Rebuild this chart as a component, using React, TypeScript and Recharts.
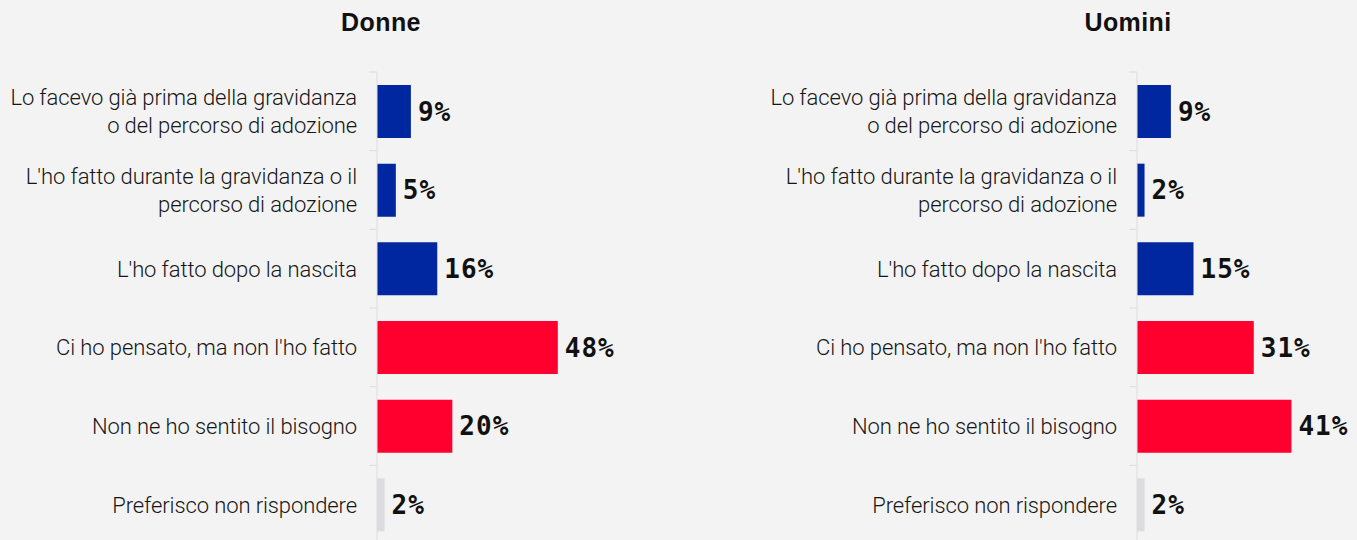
import * as React from "react";
import { BarChart, Bar, XAxis, YAxis, Cell, LabelList } from "recharts";

const categories = [
  "Lo facevo già prima della gravidanza o del percorso di adozione",
  "L'ho fatto durante la gravidanza o il percorso di adozione",
  "L'ho fatto dopo la nascita",
  "Ci ho pensato, ma non l'ho fatto",
  "Non ne ho sentito il bisogno",
  "Preferisco non rispondere",
];
const donneValues = [9, 5, 16, 48, 20, 2];
const uominiValues = [9, 2, 15, 31, 41, 2];
const answerGroup = ["done", "done", "done", "notDone", "notDone", "noAnswer"];

const GROUP_COLORS: Record<string, string> = {
  done: "#0026a0",
  notDone: "#ff002e",
  noAnswer: "#dcdcde",
};

const AXIS_WIDTH = 377;
const CHART_HEIGHT = 560;
const MARGIN = { top: 72, right: 157, left: 0, bottom: 16 };
const BAND = (CHART_HEIGHT - MARGIN.top - MARGIN.bottom) / categories.length;

function wrapLabel(text: string, maxChars: number) {
  const words = text.split(" ");
  const lines: string[] = [];
  let current = "";
  for (const w of words) {
    const next = current ? current + " " + w : w;
    if (next.length > maxChars && current) {
      lines.push(current);
      current = w;
    } else {
      current = next;
    }
  }
  if (current) lines.push(current);
  return lines;
}

function CategoryTick({ y, payload }: any) {
  const lines = wrapLabel(payload.value, 37);
  const lineHeight = 28;
  const startDy = -((lines.length - 1) * lineHeight) / 2;
  const textX = AXIS_WIDTH - 20;
  const top = y - BAND / 2;
  return (
    <g>
      <line x1={AXIS_WIDTH - 8} x2={AXIS_WIDTH} y1={top} y2={top} stroke="#dddddd" />
      <text
        x={textX}
        y={y}
        textAnchor="end"
        dominantBaseline="central"
        fill="#161616"
        style={{ fontFamily: "Roboto, sans-serif", fontWeight: 300, fontSize: 22, letterSpacing: -0.1 }}
      >
        {lines.map((l, i) => (
          <tspan key={i} x={textX} dy={i === 0 ? startDy : lineHeight}>
            {l}
          </tspan>
        ))}
      </text>
    </g>
  );
}

function GenderChart({ title, values, titleCenter }: { title: string; values: number[]; titleCenter: number }) {
  const data = categories.map((name, i) => ({ name, value: values[i], group: answerGroup[i] }));
  return (
    <div style={{ position: "relative", width: 760, height: 540 }}>
      <div
        style={{
          position: "absolute",
          left: titleCenter - 150,
          width: 300,
          top: 10,
          textAlign: "center",
          fontFamily: "'Liberation Sans', Arial, sans-serif",
          fontWeight: 700,
          fontSize: 25,
          lineHeight: "25px",
          letterSpacing: 0.4,
          color: "#111",
        }}
      >
        {title}
      </div>
      <BarChart width={760} height={CHART_HEIGHT} data={data} layout="vertical" margin={MARGIN}>
        <XAxis type="number" domain={[0, 60]} hide />
        <YAxis
          type="category"
          dataKey="name"
          width={AXIS_WIDTH}
          axisLine={{ stroke: "#dddddd" }}
          tickLine={false}
          tick={<CategoryTick />}
          interval={0}
        />
        <Bar dataKey="value" barSize={53} isAnimationActive={false}>
          {data.map((d, i) => (
            <Cell key={i} fill={GROUP_COLORS[d.group]} />
          ))}
          <LabelList
            dataKey="value"
            position="right"
            offset={7}
            formatter={(v: any) => `${v}%`}
            style={{
              fontFamily: "'DejaVu Sans Mono', monospace",
              fontWeight: 700,
              fontSize: 26,
              letterSpacing: 1,
              fill: "#111",
            }}
          />
        </Bar>
      </BarChart>
    </div>
  );
}

export default function App() {
  return (
    <div
      style={{
        position: "fixed",
        top: 0,
        left: 0,
        width: 1357,
        height: 540,
        overflow: "hidden",
        background: "#f3f3f3",
      }}
    >
      <div style={{ position: "absolute", left: 0, top: 0 }}>
        <GenderChart title="Donne" values={donneValues} titleCenter={381} />
      </div>
      <div style={{ position: "absolute", left: 760, top: 0 }}>
        <GenderChart title="Uomini" values={uominiValues} titleCenter={368} />
      </div>
    </div>
  );
}
